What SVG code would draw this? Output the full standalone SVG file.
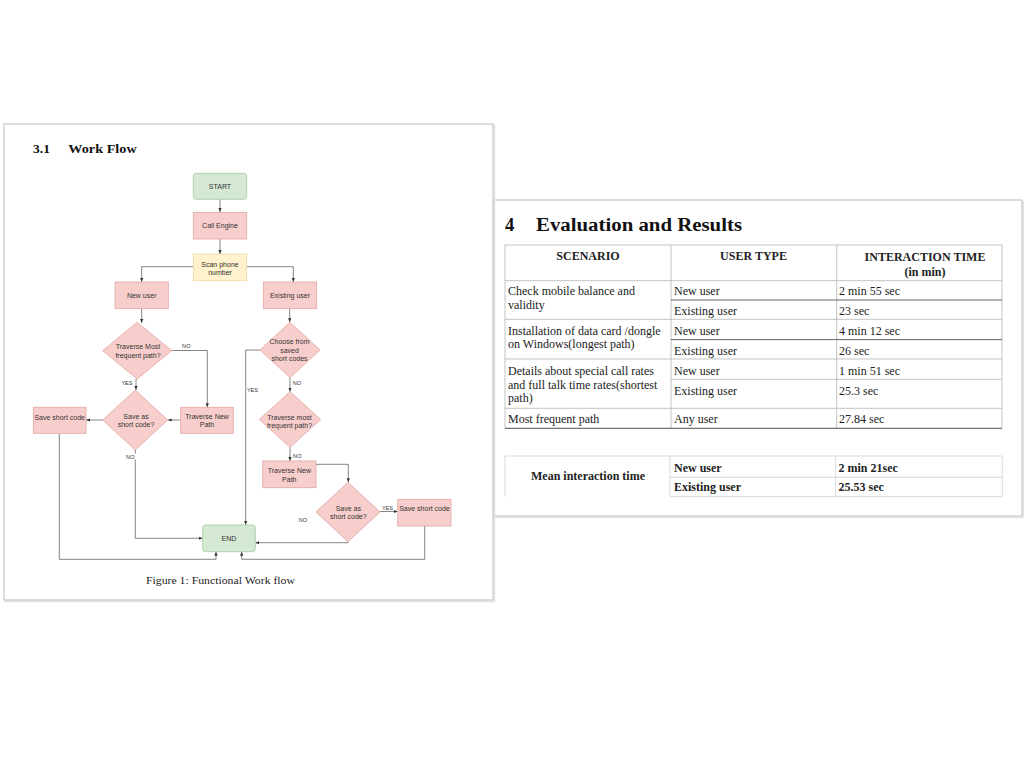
<svg xmlns="http://www.w3.org/2000/svg" width="1024" height="768" viewBox="0 0 1024 768">
<defs>
<style>
.pg{fill:#fff;stroke:#c6c6c6;stroke-width:1.2}
.sh{fill:none;stroke:#e2e2e2;stroke-width:1.5}
.g{fill:#d5e8d4;stroke:#a4cc98;stroke-width:0.8}
.r{fill:#f8cecc;stroke:#e2a6a3;stroke-width:0.8}
.y{fill:#fff2cc;stroke:#ebd89e;stroke-width:0.8}
.t{font-family:"Liberation Sans",Arial,sans-serif;font-size:7px;fill:#333;text-anchor:middle}
.lb{font-family:"Liberation Sans",Arial,sans-serif;font-size:5.6px;fill:#333;text-anchor:middle}
.c{fill:none;stroke:#666;stroke-width:0.8;marker-end:url(#ah)}
.hd{font-family:"Liberation Serif","Times New Roman",serif;font-weight:bold;fill:#111}
.cap{font-family:"Liberation Serif","Times New Roman",serif;font-size:11px;fill:#222}
.tt{font-family:"Liberation Serif","Times New Roman",serif;font-size:12px;fill:#222}
.tb{font-family:"Liberation Serif","Times New Roman",serif;font-size:12px;font-weight:bold;fill:#222}
.tl{stroke:#b4b4b4;stroke-width:0.8;fill:none}
.td{stroke:#555;stroke-width:0.9;fill:none}
.tm{stroke:#cfcfcf;stroke-width:0.8;fill:none}
</style>
<marker id="ah" viewBox="0 0 10 10" refX="10" refY="5" markerWidth="4" markerHeight="4" markerUnits="userSpaceOnUse" orient="auto">
<path d="M0,1 L10,5 L0,9 z" fill="#333"/>
</marker>
</defs>
<rect width="1024" height="768" fill="#fff"/>

<!-- right page -->
<g id="page-right">
<rect class="sh" x="494.5" y="201.5" width="529" height="316"/>
<rect class="pg" x="493" y="200" width="529" height="316"/>
<text class="hd" x="505" y="231" font-size="18.5">4</text>
<text class="hd" x="536" y="231" font-size="18.5" textLength="206" lengthAdjust="spacingAndGlyphs">Evaluation and Results</text>
</g>

<g id="results-table">
<rect class="tl" x="505" y="245" width="497" height="183.3"/>
<line class="tl" x1="671" y1="245" x2="671" y2="428.3"/>
<line class="tl" x1="836.7" y1="245" x2="836.7" y2="428.3"/>
<line class="tl" x1="505" y1="280.7" x2="1002" y2="280.7"/>
<line class="td" x1="671" y1="300" x2="1002" y2="300"/>
<line class="tl" x1="505" y1="319.3" x2="1002" y2="319.3"/>
<line class="td" x1="671" y1="339.6" x2="1002" y2="339.6"/>
<line class="tl" x1="505" y1="359" x2="1002" y2="359"/>
<line class="tl" x1="671" y1="379.3" x2="1002" y2="379.3"/>
<line class="tl" x1="505" y1="408.3" x2="1002" y2="408.3"/>
<line class="td" x1="505" y1="428.3" x2="1002" y2="428.3"/>
<text class="tb" x="588" y="259.5" text-anchor="middle">SCENARIO</text>
<text class="tb" x="753.5" y="259.5" text-anchor="middle">USER TYPE</text>
<text class="tb" x="925" y="260.5" text-anchor="middle">INTERACTION TIME</text>
<text class="tb" x="925" y="275.5" text-anchor="middle">(in min)</text>
<text class="tt" x="508" y="294.7">Check mobile balance and</text>
<text class="tt" x="508" y="309">validity</text>
<text class="tt" x="674" y="294.7">New user</text>
<text class="tt" x="839" y="294.7">2 min 55 sec</text>
<text class="tt" x="674" y="314.7">Existing user</text>
<text class="tt" x="839" y="314.7">23 sec</text>
<text class="tt" x="508" y="334.7">Installation of data card /dongle</text>
<text class="tt" x="508" y="348.3">on Windows(longest path)</text>
<text class="tt" x="674" y="334.7">New user</text>
<text class="tt" x="839" y="334.7">4 min 12 sec</text>
<text class="tt" x="674" y="354.5">Existing user</text>
<text class="tt" x="839" y="354.5">26 sec</text>
<text class="tt" x="508" y="374.8">Details about special call rates</text>
<text class="tt" x="508" y="388.5">and full talk time rates(shortest</text>
<text class="tt" x="508" y="402">path)</text>
<text class="tt" x="674" y="374.8">New user</text>
<text class="tt" x="839" y="374.8">1 min 51 sec</text>
<text class="tt" x="674" y="394.5">Existing user</text>
<text class="tt" x="839" y="394.5">25.3 sec</text>
<text class="tt" x="508" y="423">Most frequent path</text>
<text class="tt" x="674" y="423">Any user</text>
<text class="tt" x="839" y="423">27.84 sec</text>
</g>

<g id="mean-table">
<line class="tm" x1="505" y1="456" x2="1002.3" y2="456"/>
<line class="tm" x1="505" y1="456" x2="505" y2="496.7"/>
<line class="tm" x1="670" y1="456" x2="670" y2="496.7"/>
<line class="tm" x1="835.7" y1="456" x2="835.7" y2="496.7"/>
<line class="tm" x1="1002.3" y1="456" x2="1002.3" y2="496.7"/>
<line class="tm" x1="670" y1="477.3" x2="1002.3" y2="477.3"/>
<line class="tm" x1="670" y1="496.7" x2="1002.3" y2="496.7"/>
<text class="tb" x="588" y="480" text-anchor="middle">Mean interaction time</text>
<text class="tb" x="674" y="471.5">New user</text>
<text class="tb" x="838.5" y="471.5">2 min 21sec</text>
<text class="tb" x="674" y="491">Existing user</text>
<text class="tb" x="838.5" y="491">25.53 sec</text>
</g>

<!-- left page -->
<g id="page-left">
<rect class="sh" x="5.5" y="125.5" width="489" height="476"/>
<rect class="pg" x="4" y="124" width="489" height="476"/>
<text class="hd" x="33" y="153.3" font-size="13.5">3.1</text>
<text class="hd" x="68.3" y="153.3" font-size="13.5" textLength="68.4" lengthAdjust="spacingAndGlyphs">Work Flow</text>
<text class="cap" x="146" y="583.5" textLength="149" lengthAdjust="spacingAndGlyphs">Figure 1: Functional Work flow</text>
</g>

<g id="connectors">
<path class="c" d="M220,199.3 V212"/>
<path class="c" d="M220,239 V254"/>
<path class="c" d="M193.3,266.7 H141.7 V282"/>
<path class="c" d="M246.7,266.7 H293.3 V282"/>
<path class="c" d="M141.7,308.5 V323"/>
<path class="c" d="M171.7,350.5 H207.3 V407.3"/>
<path class="c" d="M136,379 V390"/>
<path class="c" d="M180.7,420 H167.7"/>
<path class="c" d="M102.7,420 H86"/>
<path class="c" d="M135.3,450 V538.3 H202.7"/>
<path class="c" d="M59.3,433.3 V559.3 H216 V551.7"/>
<path class="c" d="M289.7,308.5 V322.3"/>
<path class="c" d="M260,350 H245.7 V524.8"/>
<path class="c" d="M290,377.7 V391.7"/>
<path class="c" d="M290,447.3 V461"/>
<path class="c" d="M316,464.3 H348.3 V482.3"/>
<path class="c" d="M380,511.5 H397.7"/>
<path class="c" d="M348,541.7 V542.7 H255.3"/>
<path class="c" d="M424.7,526 V559.3 H241.7 V551.7"/>
<text class="lb" x="186.3" y="348">NO</text>
<text class="lb" x="127" y="384.7">YES</text>
<rect x="125" y="453.5" width="11" height="6" fill="#fff"/>
<text class="lb" x="130.3" y="458.7">NO</text>
<text class="lb" x="252.5" y="392">YES</text>
<text class="lb" x="297" y="384.7">NO</text>
<text class="lb" x="297.3" y="457.7">NO</text>
<text class="lb" x="387.5" y="509.7">YES</text>
<text class="lb" x="303" y="522">NO</text>
</g>

<g id="n-start"><rect class="g" x="193.3" y="173.3" width="53.4" height="26" rx="3"/><text class="t" x="220" y="188.8">START</text></g>
<g id="n-call"><rect class="r" x="193.3" y="212.3" width="53.4" height="26.7"/><text class="t" x="220" y="228">Call Engine</text></g>
<g id="n-scan"><rect class="y" x="193.3" y="254" width="53.4" height="26.7"/><text class="t" x="220" y="266.5">Scan phone</text><text class="t" x="220" y="274.8">number</text></g>
<g id="n-newuser"><rect class="r" x="115" y="282" width="53.3" height="26.5"/><text class="t" x="141.7" y="297.5">New user</text></g>
<g id="n-existing"><rect class="r" x="263.3" y="282" width="53.4" height="26.5"/><text class="t" x="290" y="297.5">Existing user</text></g>
<g id="n-d1"><polygon class="r" points="137.2,322.3 171.7,350.6 137.2,379 102.7,350.6"/><text class="t" x="138" y="349.2">Traverse Most</text><text class="t" x="138" y="357.5">frequent path?</text></g>
<g id="n-tnp1"><rect class="r" x="180.7" y="407.3" width="52.6" height="26"/><text class="t" x="207" y="418.6">Traverse New</text><text class="t" x="207" y="426.8">Path</text></g>
<g id="n-d2"><polygon class="r" points="135.2,390 167.7,420 135.2,450 102.7,420"/><text class="t" x="136" y="419">Save as</text><text class="t" x="136" y="427.3">short code?</text></g>
<g id="n-ssc1"><rect class="r" x="33.3" y="407.3" width="52.7" height="26"/><text class="t" x="59.7" y="419.5">Save short code</text></g>
<g id="n-choose"><polygon class="r" points="290,322.3 320,350 290,377.7 260,350"/><text class="t" x="289.5" y="344.2">Choose from</text><text class="t" x="289.5" y="352.6">saved</text><text class="t" x="289.5" y="361.2">short codes</text></g>
<g id="n-d3"><polygon class="r" points="290,391.7 320.7,419.5 290,447.3 259.3,419.5"/><text class="t" x="289.5" y="419.8">Traverse most</text><text class="t" x="289.5" y="428.2">frequent path?</text></g>
<g id="n-tnp2"><rect class="r" x="262.7" y="461" width="53.3" height="26.7"/><text class="t" x="289.3" y="473.2">Traverse New</text><text class="t" x="289.3" y="481.5">Path</text></g>
<g id="n-d4"><polygon class="r" points="348,482.3 380,512 348,541.7 316,512"/><text class="t" x="348.3" y="510.8">Save as</text><text class="t" x="348.3" y="518.8">short code?</text></g>
<g id="n-ssc2"><rect class="r" x="397.7" y="499.3" width="53.3" height="26.7"/><text class="t" x="424.5" y="510.8">Save short code</text></g>
<g id="n-end"><rect class="g" x="202.7" y="525" width="52.6" height="26.7" rx="3"/><text class="t" x="229" y="541">END</text></g>
</svg>
